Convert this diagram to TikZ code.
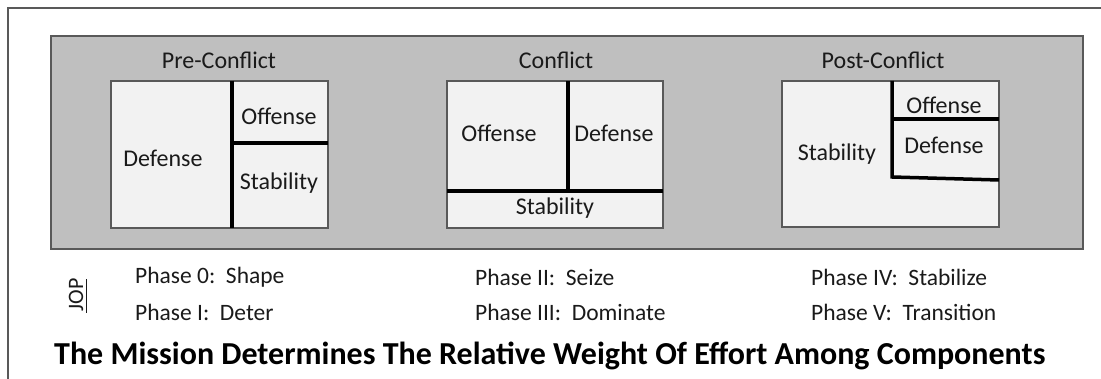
\documentclass[tikz,border=0pt]{standalone}
\usepackage{fontspec}
\setmainfont{Carlito}
\usetikzlibrary{positioning}
\definecolor{framegray}{HTML}{595959}
\definecolor{panelgray}{HTML}{BFBFBF}
\definecolor{boxfill}{HTML}{F2F2F2}
\definecolor{txt}{HTML}{1A1A1A}
\tikzset{
  panel/.style={draw=framegray, fill=panelgray, line width=2.5pt},
  compbox/.style={draw=framegray, fill=boxfill, line width=2.5pt},
  divider/.style={draw=black, line width=3.5pt},
  lbl/.style={text=txt, font=\fontsize{24}{28}\selectfont, inner sep=0pt},
  phase/.style={text=txt, font=\fontsize{23.5}{27}\selectfont, inner sep=0pt, anchor=west},
  ttl/.style={text=black, font=\bfseries\fontsize{32}{36}\selectfont, inner sep=0pt, anchor=west}
}
\begin{document}
\begin{tikzpicture}[x=1pt,y=-1pt]
\useasboundingbox (0,0) rectangle (1101,379);
% outer frame
\draw[framegray, line width=2.5pt] (1101,8) -- (8,8) -- (8,379);
% gray panel
\draw[panel] (51,36) rectangle (1083,249);

% Pre-Conflict
\node[lbl] (t1) at (219,60) {Pre-Conflict};
\draw[compbox] (111,81) rectangle (328,228);
\draw[divider] (232,81) -- (232,228);
\draw[divider] (232,143) -- (328,143);
\node[lbl] (p1def) at (163,158) {Defense};
\node[lbl] (p1off) at (279,116) {Offense};
\node[lbl] (p1sta) at (279,183) {Stability};

% Conflict
\node[lbl] (t2) at (556,60) {Conflict};
\draw[compbox] (447,81) rectangle (663,228);
\draw[divider] (568,81) -- (568,191);
\draw[divider] (447,191) -- (663,191);
\node[lbl] (p2off) at (499,133) {Offense};
\node[lbl] (p2def) at (614,133) {Defense};
\node[lbl] (p2sta) at (555,208) {Stability};

% Post-Conflict
\node[lbl] (t3) at (883,60) {Post-Conflict};
\draw[compbox] (782,81) rectangle (999,227);
\draw[divider] (892,81) -- (892,177) -- (999,180);
\draw[divider] (892,119) -- (999,119);
\node[lbl] (p3sta) at (837,154) {Stability};
\node[lbl] (p3off) at (944,105) {Offense};
\node[lbl] (p3def) at (944,145) {Defense};

% JOP
\node[text=txt, font=\fontsize{22}{26}\selectfont, inner sep=0pt, rotate=90] (jop) at (76,295) {JOP};
\draw[txt, line width=1.3pt] ([xshift=3pt,yshift=-1pt]jop.south west) -- ([xshift=3pt,yshift=-1pt]jop.south east);

% phases
\node[phase] (ph0) at (135,277) {Phase 0:\ \ Shape};
\node[phase] (ph1) at (135,312) {Phase I:\ \ Deter};
\node[phase] (ph2) at (475,277) {Phase II:\ \ Seize};
\node[phase] (ph3) at (475,312) {Phase III:\ \ Dominate};
\node[phase] (ph4) at (811,277) {Phase IV:\ \ Stabilize};
\node[phase] (ph5) at (811,312) {Phase V:\ \ Transition};

% title
\node[ttl] (title) at (54,356) {The Mission Determines The Relative Weight Of Effort Among Components};
\end{tikzpicture}
\end{document}
